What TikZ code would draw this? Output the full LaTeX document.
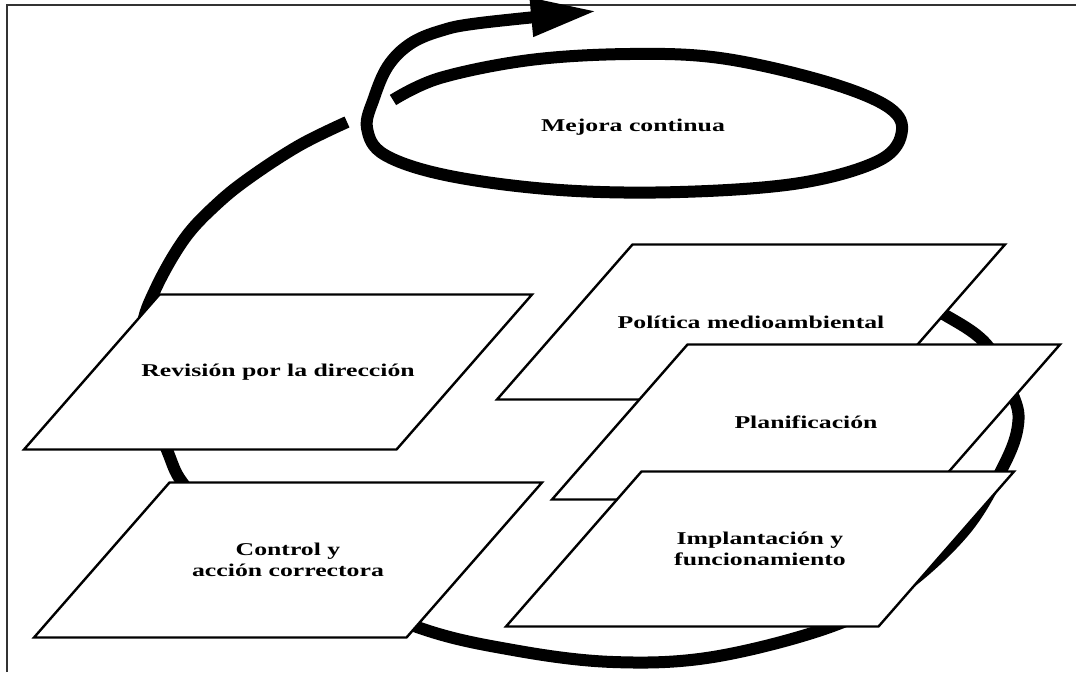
\documentclass[tikz,border=0pt]{standalone}
\usepackage{fontspec}
\setmainfont{Liberation Serif}[FakeStretch=1.43]
\usepackage{tikz}
\usetikzlibrary{
	arrows.meta
	}
\tikzstyle{boite-para}=[draw,fill=white,line width=2.4pt,line join=miter]
\tikzstyle{texte-boite}=[align=center,inner sep=0pt,font=\fontsize{18}{21}\selectfont\bfseries]
\tikzstyle{trait-cycle}=[line width=12pt,line cap=butt,line join=round]
\tikzstyle{cadre}=[line width=2pt,black!80]
% boite en parallelogramme : nom, x, y, texte
\newcommand{\boitepara}[4]{%
	\filldraw[boite-para] (#2-118.5,#3-77.5) -- (#2+254,#3-77.5) -- (#2+118.5,#3+77.5) -- (#2-254,#3+77.5) -- cycle;
	\node[texte-boite] (#1) at (#2,#3) {#4};}

\begin{document}
\begin{tikzpicture}[x=1pt,y=-1pt]
\useasboundingbox (0,0) rectangle (1076,672);
\draw[cadre] (7,672) -- (7,5) -- (1076,5);

% grande boucle (derriere les boites)
\draw[trait-cycle] plot[smooth,tension=0.6] coordinates {(905,296) (945,315) (987,345) (1013,395) (1018,425) (1004,465) (965,530) (900,590) (830,627) (713,657) (613,662) (513,650) (417,627) (300,575) (215,515) (182,482) (167,450) (145,392) (142,330) (156,288) (185,238) (218,203) (252,176) (300,145) (347,122)};

% spirale de la mejora continua
\draw[trait-cycle,-{Triangle[length=66pt,width=36pt]}] plot[smooth,tension=0.6] coordinates {(393,100) (440,78) (530,60) (630,54) (720,58) (820,80) (885,105) (902,130) (880,160) (800,183) (680,192) (560,190) (450,176) (385,155) (367,128) (374,98) (388,66) (410,44) (440,31) (480,23) (597,11)};
\node[texte-boite] (mejora) at (633,127) {Mejora continua};

\boitepara{revision}{278}{372}{Revisión por la dirección}
\boitepara{control}{288}{560}{Control y\\acción correctora}
\boitepara{politica}{751}{322}{Política medioambiental}
\boitepara{planificacion}{806}{422}{Planificación}
\boitepara{implantacion}{760}{549}{Implantación y\\funcionamiento}
\end{tikzpicture}
\end{document}
